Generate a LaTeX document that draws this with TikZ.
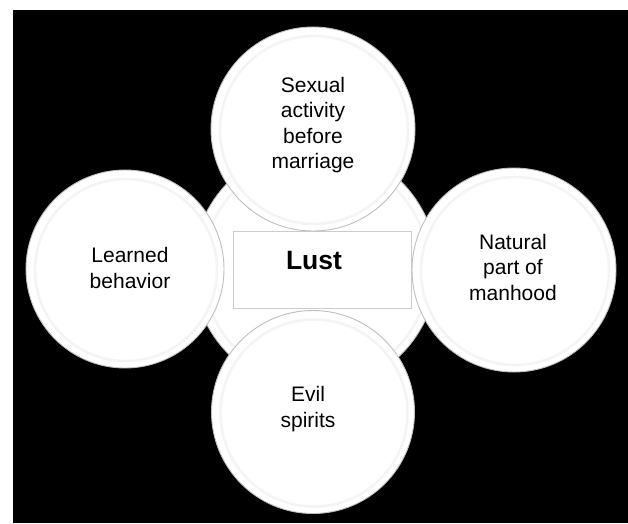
\documentclass[tikz,border=0pt]{standalone}
\usepackage{fontspec}
\setmainfont{Liberation Sans}
\begin{document}
\begin{tikzpicture}[x=1pt,y=-1pt,
  plate/.style={circle,fill=white,draw=gray!50,line width=0.9pt,minimum size=#1,inner sep=0pt},
  ring/.style={circle,draw=gray!9,line width=2.5pt,minimum size=#1,inner sep=0pt},
  lbl/.style={align=center,font=\fontsize{21}{25.5}\selectfont,text=black},
  hub/.style={draw=gray!40,line width=0.4pt,fill=white,minimum width=178pt,minimum height=77pt,inner sep=0pt}]
\useasboundingbox (0,0) rectangle (628,523);
\fill[white] (0,0) rectangle (628,523);
\fill[black] (13,10) rectangle (628,523);
% central circle
\node[plate=244pt] (c) at (315,268) {};
\node[ring=226pt] (cr) at (316,269) {};
% centre box
\node[hub] (box) at (322,269.5) {};
\node[font=\fontsize{26.5}{30}\selectfont\bfseries] (lust) at (314,261) {Lust};
% satellites
\node[plate=204pt] (top) at (313,129) {};
\node[ring=188pt] (topr) at (314,130) {};
\node[plate=198pt] (left) at (125,269) {};
\node[ring=182pt] (leftr) at (126,270) {};
\node[plate=204pt] (right) at (514,270) {};
\node[ring=188pt] (rightr) at (515,271) {};
\node[plate=203pt] (bot) at (313,412) {};
\node[ring=187pt] (botr) at (314,413) {};
% labels
\node[lbl] (tl) at (313,125) {Sexual\\activity\\before\\marriage};
\node[lbl] (ll) at (130,268) {Learned\\behavior};
\node[lbl] (rl) at (513,267) {Natural\\part of\\manhood};
\node[lbl] (bl) at (308,409) {Evil\\spirits};
\end{tikzpicture}
\end{document}
